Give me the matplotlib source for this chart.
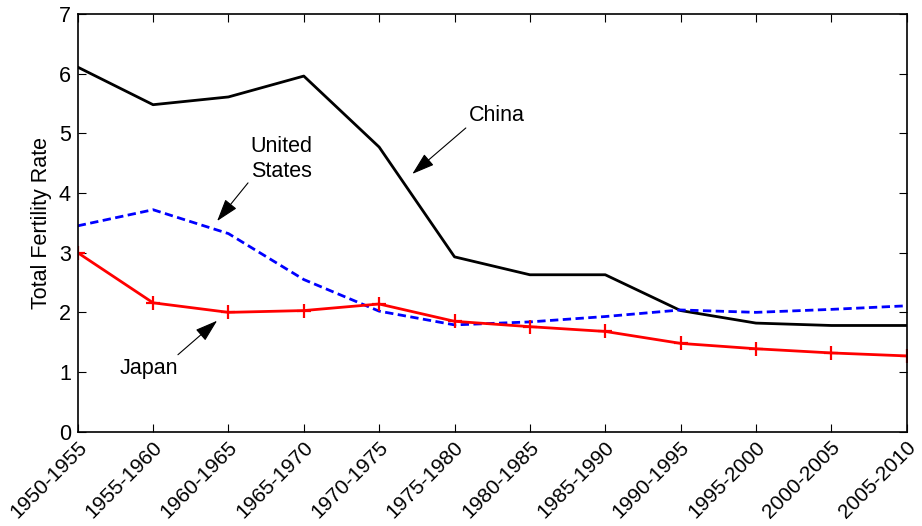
import matplotlib
matplotlib.use("Agg")
import matplotlib.pyplot as plt
import matplotlib.transforms as mtransforms

plt.rcParams['font.family'] = ['Liberation Sans', 'DejaVu Sans']

periods = ["1950-1955", "1955-1960", "1960-1965", "1965-1970", "1970-1975", "1975-1980",
           "1980-1985", "1985-1990", "1990-1995", "1995-2000", "2000-2005", "2005-2010"]
china = [6.11, 5.48, 5.61, 5.96, 4.77, 2.93, 2.63, 2.63, 2.03, 1.82, 1.78, 1.78]
united_states = [3.45, 3.72, 3.32, 2.55, 2.02, 1.79, 1.84, 1.93, 2.04, 2.00, 2.05, 2.11]
japan = [3.00, 2.16, 2.00, 2.03, 2.14, 1.85, 1.76, 1.68, 1.48, 1.39, 1.32, 1.27]
y_ticks = [0, 1, 2, 3, 4, 5, 6, 7]

fig = plt.figure(figsize=(9.22, 5.26), dpi=100)
ax = fig.add_axes([77.7 / 922, 1 - 431.7 / 526, (906.7 - 77.7) / 922, (431.7 - 14) / 526])

x = list(range(len(periods)))
ax.plot(x, china, color='black', lw=2.0)
ax.plot(x, united_states, color='blue', lw=2.0, ls=(0, (3.0, 1.6)))
ax.plot(x, japan, color='red', lw=2.0, marker='+', ms=10, mew=1.6)

ax.set_xlim(0, len(periods) - 1)
ax.set_ylim(0, 7)
ax.set_yticks(y_ticks)
ax.set_xticks(x)
ax.tick_params(axis='both', direction='in', length=6, width=0.8, top=True, right=True, labelsize=15.5, pad=5)
ax.tick_params(axis='x', pad=9)
ax.set_xticklabels(periods, rotation=45, ha='right', va='center', rotation_mode='anchor', fontsize=15)
offset = mtransforms.ScaledTranslation(6 / 100, 0 / 100, fig.dpi_scale_trans)
for lab in ax.get_xticklabels():
    lab.set_transform(lab.get_transform() + offset)
for s in ax.spines.values():
    s.set_linewidth(1.2)
ax.set_ylabel("Total Fertility Rate", fontsize=15.5, labelpad=5)

arrow = dict(arrowstyle='-|>,head_length=1.4,head_width=0.45', color='black', lw=0.8, shrinkA=0, shrinkB=0)
ax.text(5.56, 5.30, "China", fontsize=15.5, ha='center', va='center')
ax.annotate("", xy=(4.44, 4.32), xytext=(5.15, 5.09), arrowprops=arrow)
ax.text(2.70, 4.57, "United\nStates", fontsize=15.5, ha='center', va='center', linespacing=1.3)
ax.annotate("", xy=(1.85, 3.53), xytext=(2.26, 4.17), arrowprops=arrow)
ax.text(0.95, 1.06, "Japan", fontsize=15.5, ha='center', va='center')
ax.annotate("", xy=(1.85, 1.86), xytext=(1.33, 1.29), arrowprops=arrow)

fig.savefig("out.png", dpi=100)
